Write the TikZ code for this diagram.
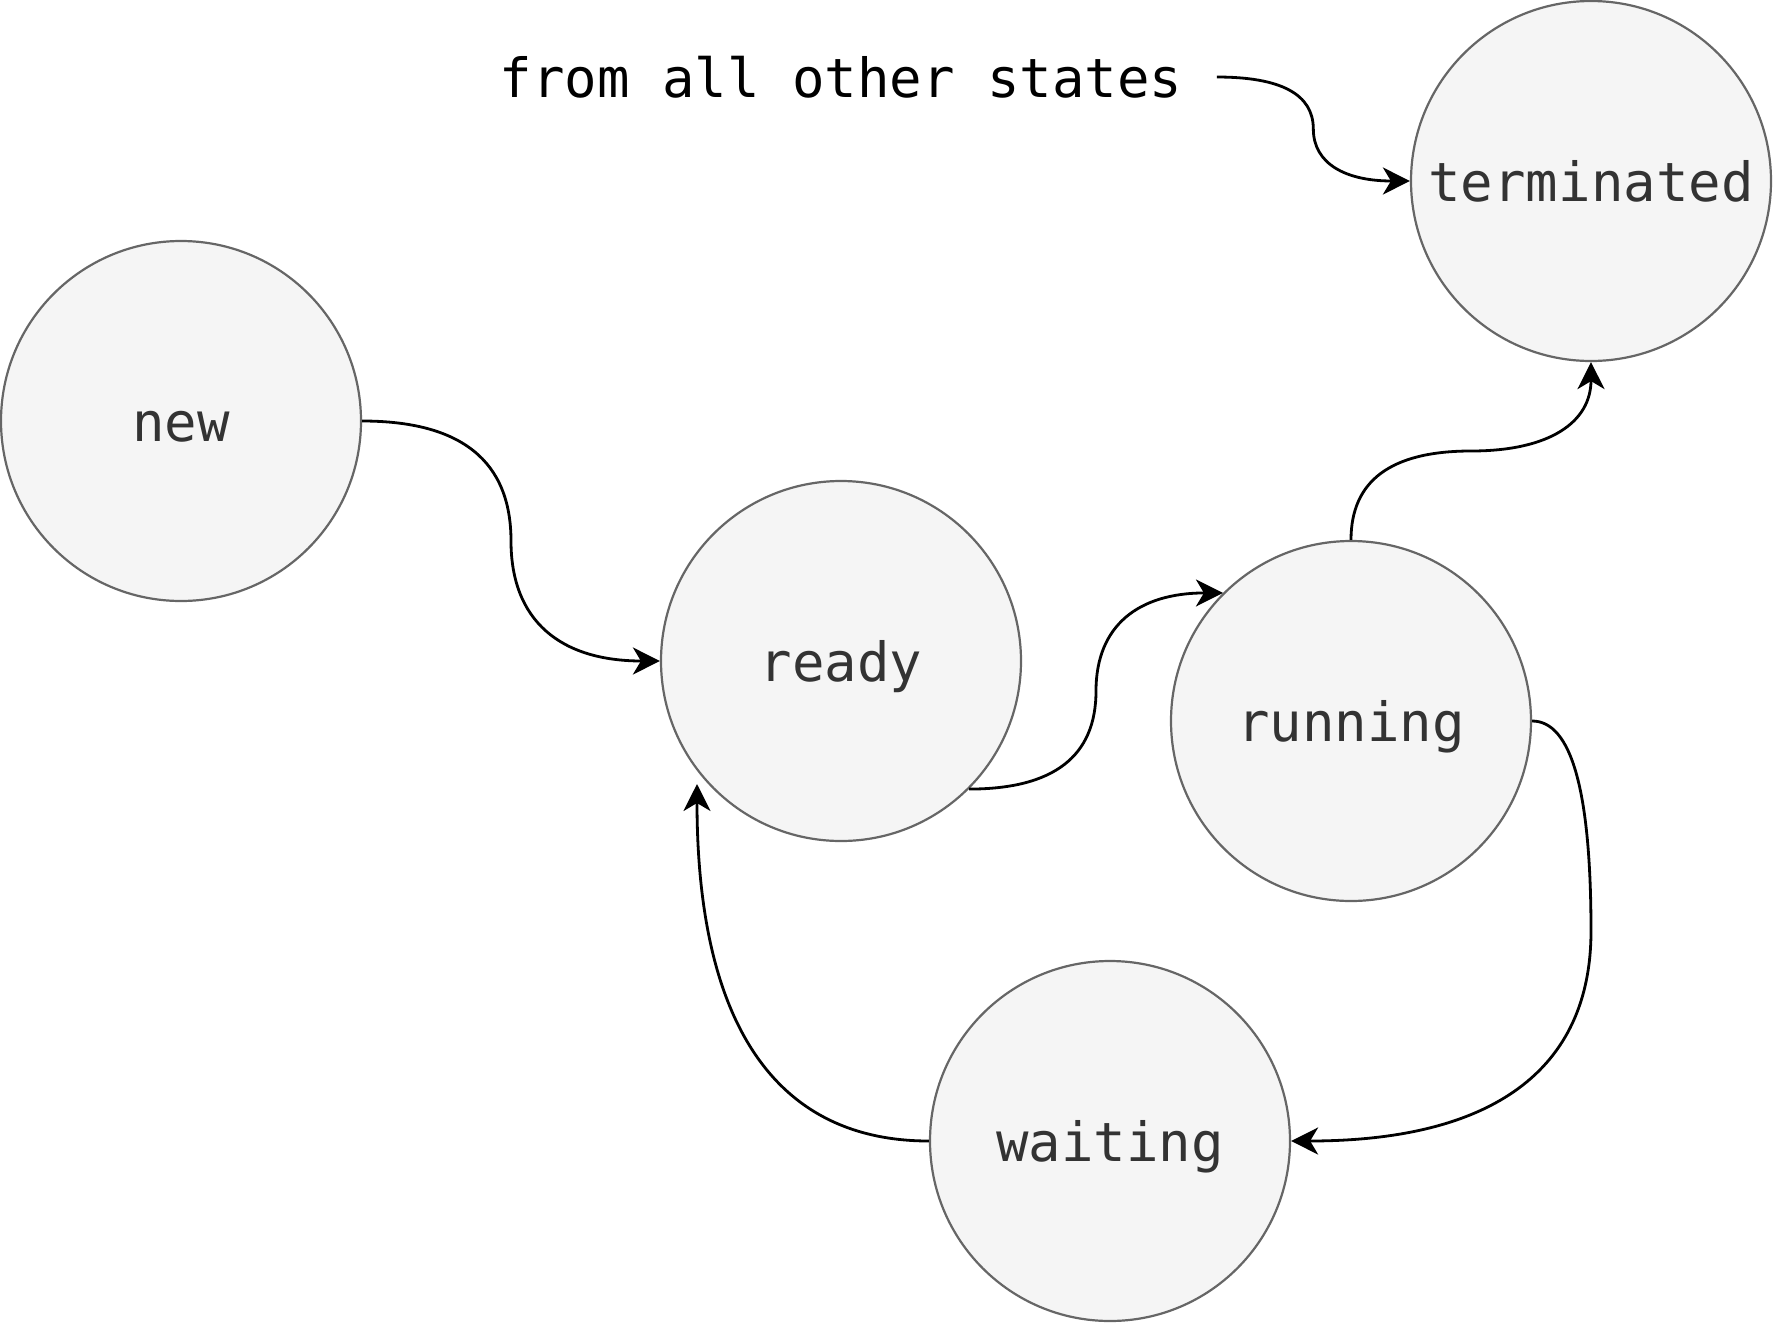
\documentclass[tikz,border=0pt]{standalone}
\usepackage{fontspec}
\setmonofont{DejaVu Sans Mono}
\usetikzlibrary{arrows.meta,calc}
\tikzset{>={Stealth[length=13.5pt,width=13.5pt,inset=4pt]}}
\colorlet{myfill}{black!4}
\colorlet{myline}{black!60}
\colorlet{mytext}{black!80}
\tikzstyle{label}=[font=\ttfamily\fontsize{27}{32}\selectfont,text height=20pt,text depth=0pt]
\tikzstyle{state}=[label,circle,draw=myline,fill=myfill,line width=1.1pt,minimum size=180pt,inner sep=0pt,text=mytext]
\tikzstyle{flow}=[->,line width=1.4pt]
\tikzset{quad/.style={to path={.. controls ($(\tikztostart)!2/3!(#1)$) and ($(\tikztotarget)!2/3!(#1)$) .. (\tikztotarget)}}}

\begin{document}
\begin{tikzpicture}[x=0.5pt,y=-0.5pt]
  \useasboundingbox (0,0) rectangle (1773,1323);
  \node[state] (new) at (181,421) {new};
  \node[state] (ready) at (841,661) {ready};
  \node[state] (running) at (1351,721) {running};
  \node[state] (terminated) at (1591,181) {terminated};
  \node[state] (waiting) at (1110,1141) {waiting};
  \node[label,inner xsep=17pt] (others) at (841,77) {from all other states};

  % bends half way between the ends
  \coordinate (nr) at ($(new.east)!.5!(ready.west)$);
  \coordinate (rr) at ($(ready.-45)!.5!(running.135)$);
  \coordinate (rt) at ($(running.north)!.5!(terminated.south)$);
  \coordinate (ot) at ($(others.east)!.5!(terminated.west)$);
  \coordinate (rw) at ($(running.east)!.5!(waiting.east)$);
  \coordinate (rwm) at (terminated |- rw);
  \coordinate (wr) at ($(ready)+(-144,123)$);

  \draw[flow] (new.east) to[quad={nr |- new.east}] (nr) to[quad={nr |- ready.west}] (ready.west);
  \draw[flow] (ready.-45) to[quad={rr |- ready.-45}] (rr) to[quad={rr |- running.135}] (running.135);
  \draw[flow] (running.north) to[quad={running.north |- rt}] (rt) to[quad={terminated.south |- rt}] (terminated.south);
  \draw[flow] (others.east) to[quad={ot |- others.east}] (ot) to[quad={ot |- terminated.west}] (terminated.west);
  \draw[flow] (running.east) to[quad={rwm |- running.east}] (rwm) to[quad={rwm |- waiting.east}] (waiting.east);
  \draw[flow] (waiting.west) to[quad={wr |- waiting.west}] (wr);
\end{tikzpicture}
\end{document}
